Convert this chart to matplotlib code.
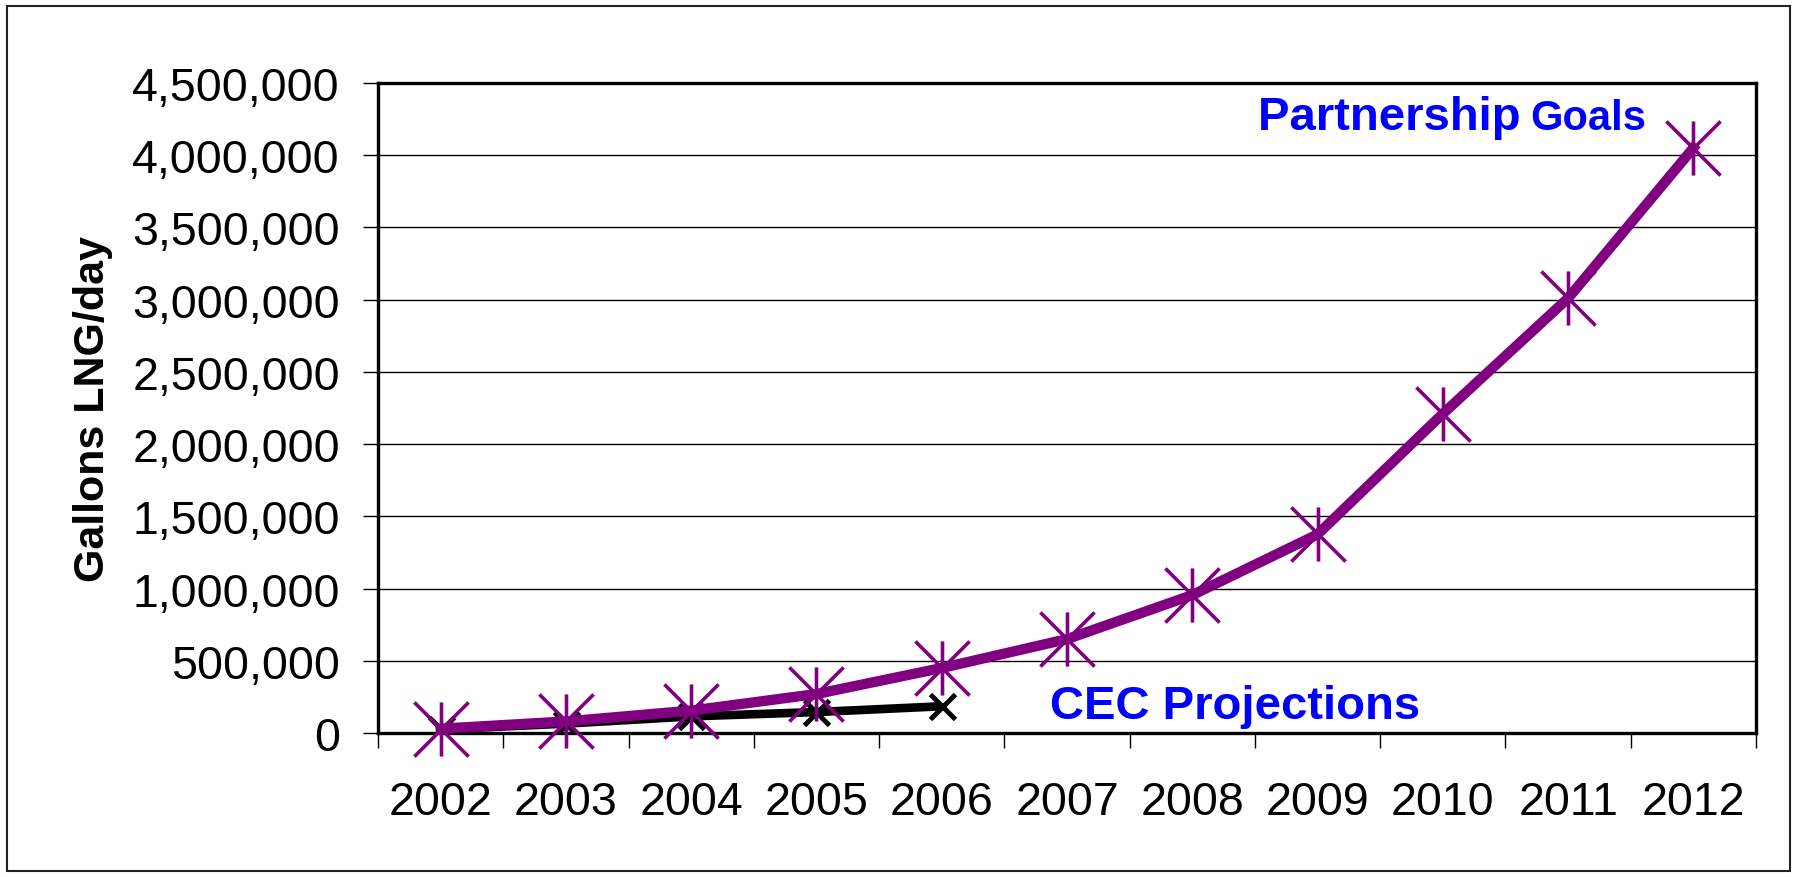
import matplotlib
matplotlib.use("Agg")
import matplotlib.pyplot as plt
from matplotlib.path import Path
from matplotlib.patches import Rectangle
from matplotlib.ticker import FuncFormatter, FixedLocator

years = ["2002", "2003", "2004", "2005", "2006", "2007", "2008", "2009", "2010", "2011", "2012"]
partnership_goals = [30000, 80000, 155000, 270000, 450000, 650000, 955000, 1375000, 2210000, 3010000, 4050000]
cec_years = ["2002", "2003", "2004", "2005", "2006"]
cec_projections = [25000, 65000, 115000, 145000, 185000]
y_ticks = [0, 500000, 1000000, 1500000, 2000000, 2500000, 3000000, 3500000, 4000000, 4500000]

plt.rcParams['font.family'] = ['Liberation Sans', 'DejaVu Sans']

W, H, DPI = 1798, 878, 100
fig = plt.figure(figsize=(W / DPI, H / DPI), dpi=DPI)
fig.patch.set_facecolor("white")

# outer chart border
fig.patches.append(Rectangle((7 / W, 1 - 872 / H), (1790 - 7) / W, (872 - 7) / H,
                             transform=fig.transFigure, fill=False,
                             edgecolor="#222222", linewidth=1.5))

left, right, bottom, top = 378, 1756, 734, 84
ax = fig.add_axes([left / W, 1 - bottom / H, (right - left) / W, (bottom - top) / H])

# star marker: X plus vertical bar
star = Path([(0, -1), (0, 1), (-1, -1), (1, 1), (-1, 1), (1, -1)],
            [Path.MOVETO, Path.LINETO, Path.MOVETO, Path.LINETO, Path.MOVETO, Path.LINETO])

xi = list(range(len(years)))
cx = [years.index(y) for y in cec_years]

ax.plot(cx, cec_projections, color="black", linewidth=6.2, marker="x",
        markersize=18, markeredgewidth=3.5, markeredgecolor="black",
        solid_capstyle="butt", zorder=3)
ax.plot(xi, partnership_goals, color="#800080", linewidth=7.4, marker=star,
        markersize=39, markeredgewidth=2.6, markeredgecolor="#800080",
        markerfacecolor="none", zorder=4, clip_on=False)

ax.set_xlim(-0.5, len(years) - 0.5)
ax.set_ylim(0, 4500000)
ax.set_yticks(y_ticks)
ax.yaxis.set_major_formatter(FuncFormatter(lambda v, p: f"{int(v):,}"))
ax.grid(axis="y", color="black", linewidth=1.0)
ax.set_axisbelow(True)

ax.xaxis.set_major_locator(FixedLocator([i - 0.5 for i in range(len(years) + 1)]))
ax.xaxis.set_minor_locator(FixedLocator(xi))
ax.set_xticklabels([])
ax.set_xticklabels(years, minor=True)
ax.tick_params(axis="x", which="major", direction="out", length=10.5, width=1.0, color="black")
ax.tick_params(axis="x", which="minor", length=0, labelsize=33.5, pad=34)
ax.tick_params(axis="y", direction="out", length=10.5, width=1.0, labelsize=33.5, pad=17)

for s in ax.spines.values():
    s.set_linewidth(2.4)
    s.set_color("black")

ax.set_ylabel("Gallons LNG/day", fontsize=31, fontweight="bold")
ax.yaxis.set_label_coords((113 - left) / (right - left), 0.5)

t1 = fig.text(1258 / W, 1 - 130 / H, "Partnership ", color="#0000FF", fontsize=34,
              fontweight="bold", ha="left", va="baseline")
fig.canvas.draw()
bb = t1.get_window_extent()
fig.text(bb.x1 / W - 0.002, 1 - 130 / H, "Goals", color="#0000FF", fontsize=30,
         fontweight="bold", ha="left", va="baseline")
fig.text(1050 / W, 1 - 719 / H, "CEC Projections", color="#0000FF", fontsize=34,
         fontweight="bold", ha="left", va="baseline")

fig.savefig("out.png", dpi=DPI)
